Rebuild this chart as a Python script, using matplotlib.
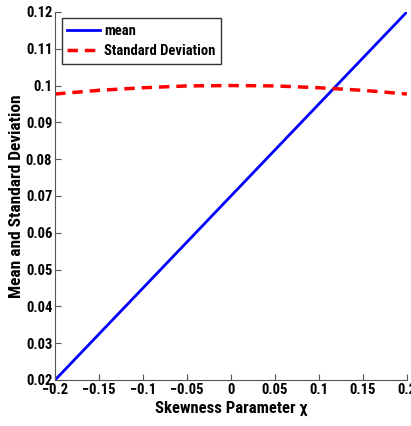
import numpy as np
import matplotlib.pyplot as plt

plt.rcParams['font.family'] = ['Roboto Condensed', 'DejaVu Sans']
plt.rcParams['font.weight'] = 'bold'

# skewness parameter chi
chi = [-0.2, -0.15, -0.1, -0.05, 0.0, 0.05, 0.1, 0.15, 0.2]
mean_vals = [0.02, 0.0325, 0.045, 0.0575, 0.07, 0.0825, 0.095, 0.1075, 0.12]
std_vals = [0.0977, 0.0987, 0.0994, 0.0999, 0.1, 0.0999, 0.0994, 0.0987, 0.0977]

xticks = [-0.2, -0.15, -0.1, -0.05, 0, 0.05, 0.1, 0.15, 0.2]
xlabels = ['\u22120.2', '\u22120.15', '\u22120.1', '\u22120.05', '0', '0.05', '0.1', '0.15', '0.2']
yticks = [0.02, 0.03, 0.04, 0.05, 0.06, 0.07, 0.08, 0.09, 0.1, 0.11, 0.12]
ylabels = ['0.02', '0.03', '0.04', '0.05', '0.06', '0.07', '0.08', '0.09', '0.1', '0.11', '0.12']

fig = plt.figure(figsize=(4.11, 4.26), dpi=100)
ax = fig.add_axes([0.134, 0.108, 0.856, 0.864])

ax.plot(chi, mean_vals, color='#0000ff', lw=2, label='mean')
ax.plot(chi, std_vals, color='#ff0000', lw=2.5, ls=(0, (3, 2)), label='Standard Deviation')

ax.set_xlim(-0.2, 0.2)
ax.set_ylim(0.02, 0.12)
ax.set_xticks(xticks)
ax.set_xticklabels(xlabels)
ax.set_yticks(yticks)
ax.set_yticklabels(ylabels)

for s in ['top', 'right']:
    ax.spines[s].set_visible(False)
for s in ['left', 'bottom']:
    ax.spines[s].set_color('#555555')
ax.tick_params(direction='in', length=4, color='#555555', labelsize=10.5, pad=2)

ax.set_xlabel('Skewness Parameter \u03c7', fontsize=12, fontweight='bold', labelpad=3)
ax.set_ylabel('Mean and Standard Deviation', fontsize=12.5, fontweight='bold', labelpad=1)

leg = ax.legend(loc='upper left', fontsize=10.5, frameon=True, fancybox=False,
                edgecolor='black', handlelength=2.2, borderaxespad=0.45,
                borderpad=0.4, labelspacing=0.4, handletextpad=0.3)
leg.get_frame().set_linewidth(1.0)

fig.savefig('out.png', dpi=100)
